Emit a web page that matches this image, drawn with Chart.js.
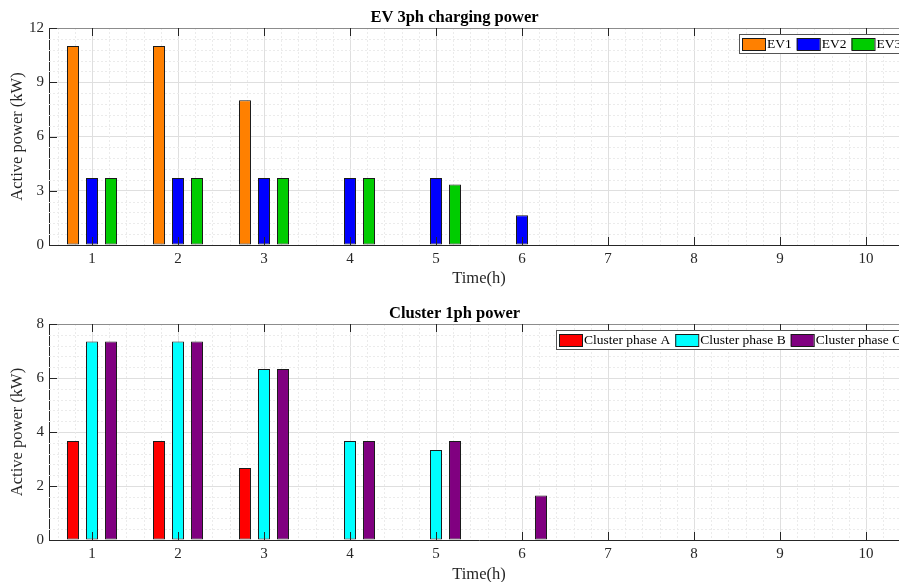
<!DOCTYPE html>
<html>
<head>
<meta charset="utf-8">
<script src="https://cdn.jsdelivr.net/npm/chart.js@4/dist/chart.umd.min.js"></script>
<style>
html, body { margin: 0; padding: 0; background: #fff; overflow: hidden; width: 899px; height: 582px; }
.box { position: absolute; left: 0; width: 910px; height: 291px; }
</style>
</head>
<body>
<div class="box" style="top:0"><canvas id="evChart" width="910" height="291"></canvas></div>
<div class="box" style="top:296px"><canvas id="clusterChart" width="910" height="291"></canvas></div>
<script>
// data (kW per hour)
var hours = ['1', '2', '3', '4', '5', '6', '7', '8', '9', '10'];

var ev1 = [11, 11, 8, 0, 0, 0, 0, 0, 0, 0];
var ev2 = [3.7, 3.7, 3.7, 3.7, 3.7, 1.65, 0, 0, 0, 0];
var ev3 = [3.7, 3.7, 3.7, 3.7, 3.35, 0, 0, 0, 0, 0];

var phaseA = [3.67, 3.67, 2.67, 0, 0, 0, 0, 0, 0, 0];
var phaseB = [7.35, 7.35, 6.33, 3.67, 3.33, 0, 0, 0, 0, 0];
var phaseC = [7.35, 7.35, 6.33, 3.67, 3.67, 1.65, 0, 0, 0, 0];

var serif = '"Liberation Serif", "Times New Roman", Times, serif';
var axisDark = '#262626';

// matlab-ish look: minor grid, inward ticks, box top, legend inside the axes
var matlabFrame = {
    id: 'matlabFrame',
    beforeDatasetsDraw: function (chart, args, opts) {
        var ctx = chart.ctx, a = chart.chartArea;
        var x = chart.scales.x, y = chart.scales.y;
        ctx.save();
        ctx.strokeStyle = '#ebebeb';
        ctx.lineWidth = 1;
        ctx.setLineDash([2, 2]);
        ctx.beginPath();
        for (var m = -2; m <= 5 * hours.length; m++) {
            if (m % 5 === 0) continue;
            var px = Math.round(x.getPixelForValue(m / 5)) + 0.5;
            if (px <= a.left || px >= a.right) continue;
            ctx.moveTo(px, a.top);
            ctx.lineTo(px, a.bottom);
        }
        var minor = opts.yStep / 5;
        for (var k = 1; k * minor < y.max - 1e-9; k++) {
            if (k % 5 === 0) continue;
            var py = Math.round(y.getPixelForValue(k * minor)) + 0.5;
            ctx.moveTo(a.left, py);
            ctx.lineTo(a.right, py);
        }
        ctx.stroke();
        ctx.restore();
    },
    afterDatasetsDraw: function (chart, args, opts) {
        var ctx = chart.ctx, a = chart.chartArea;
        var x = chart.scales.x, y = chart.scales.y;
        ctx.save();
        ctx.lineWidth = 1;
        // box top
        ctx.strokeStyle = '#8c8c8c';
        ctx.beginPath();
        ctx.moveTo(a.left, Math.round(a.top) + 0.5);
        ctx.lineTo(a.right, Math.round(a.top) + 0.5);
        ctx.stroke();
        // inward ticks
        ctx.strokeStyle = axisDark;
        ctx.beginPath();
        for (var i = 0; i < hours.length; i++) {
            var px = Math.round(x.getPixelForValue(i)) + 0.5;
            ctx.moveTo(px, a.bottom);
            ctx.lineTo(px, a.bottom - 8);
            ctx.moveTo(px, a.top);
            ctx.lineTo(px, a.top + 8);
        }
        y.ticks.forEach(function (t) {
            var py = Math.round(y.getPixelForValue(t.value)) + 0.5;
            ctx.moveTo(a.left, py);
            ctx.lineTo(a.left + 8, py);
        });
        ctx.stroke();

        // legend
        ctx.font = '13.5px ' + serif;
        var items = chart.data.datasets.map(function (d) {
            return { text: d.label, color: d.backgroundColor, w: ctx.measureText(d.label).width };
        });
        var total = 3 + 4 + 5 * (items.length - 1);
        items.forEach(function (it) { total += 25 + it.w; });
        var right = a.right - 4, left = Math.round(right - total), top = Math.round(a.top) + 6, h = 19;
        ctx.fillStyle = '#fff';
        ctx.fillRect(left, top, total, h);
        ctx.strokeStyle = '#555';
        ctx.strokeRect(left + 0.5, top + 0.5, total, h);
        var cx = left + 3;
        ctx.textBaseline = 'middle';
        ctx.textAlign = 'left';
        items.forEach(function (it) {
            ctx.fillStyle = it.color;
            ctx.fillRect(cx, top + 4, 23, 12);
            ctx.strokeStyle = '#1a1a1a';
            ctx.strokeRect(cx + 0.5, top + 4.5, 23, 12);
            ctx.fillStyle = '#000';
            ctx.fillText(it.text, cx + 25, top + h / 2 + 1);
            cx += 25 + it.w + 5;
        });
        ctx.restore();
    }
};

function barSet(label, data, color) {
    return {
        label: label,
        data: data,
        backgroundColor: color,
        borderColor: '#1a1a1a',
        borderWidth: 1,
        borderSkipped: false,
        categoryPercentage: 0.663,
        barPercentage: 0.63
    };
}

function makeChart(id, title, sets, yMax, yStep, axisH) {
    return new Chart(document.getElementById(id), {
        type: 'bar',
        data: { labels: hours, datasets: sets },
        plugins: [matlabFrame],
        options: {
            responsive: false,
            animation: false,
            layout: { padding: { left: 0, right: 1, top: 0, bottom: 0 } },
            plugins: {
                legend: { display: false },
                tooltip: { enabled: false },
                title: {
                    display: true,
                    text: title,
                    color: '#000',
                    font: { family: serif, size: 16.5, weight: 'bold' },
                    padding: { top: 8, bottom: 0.2 }
                },
                matlabFrame: { yStep: yStep }
            },
            scales: {
                x: {
                    grid: { offset: false, color: '#dfdfdf', drawTicks: false },
                    border: { color: axisDark },
                    ticks: { color: axisDark, font: { family: serif, size: 15 }, padding: 5, maxRotation: 0 },
                    title: {
                        display: true, text: 'Time(h)', color: axisDark,
                        font: { family: serif, size: 16.5 }, padding: { top: 0, bottom: 2.5 }
                    },
                    afterFit: function (s) { s.height = axisH; }
                },
                y: {
                    min: 0,
                    max: yMax,
                    grid: { color: '#dfdfdf', drawTicks: false },
                    border: { color: axisDark },
                    ticks: { stepSize: yStep, color: axisDark, font: { family: serif, size: 15 }, padding: 5 },
                    title: {
                        display: true, text: 'Active power (kW)', color: axisDark,
                        font: { family: serif, size: 16.5 }, padding: { top: 8, bottom: 0 }
                    },
                    afterFit: function (s) { s.width = 49; }
                }
            }
        }
    });
}

makeChart('evChart', 'EV 3ph charging power', [
    barSet('EV1', ev1, '#ff8000'),
    barSet('EV2', ev2, '#0000ff'),
    barSet('EV3', ev3, '#00cc00')
], 12, 3, 46);

makeChart('clusterChart', 'Cluster 1ph power', [
    barSet('Cluster phase A', phaseA, '#ff0000'),
    barSet('Cluster phase B', phaseB, '#00ffff'),
    barSet('Cluster phase C', phaseC, '#800080')
], 8, 2, 47);
</script>
</body>
</html>
